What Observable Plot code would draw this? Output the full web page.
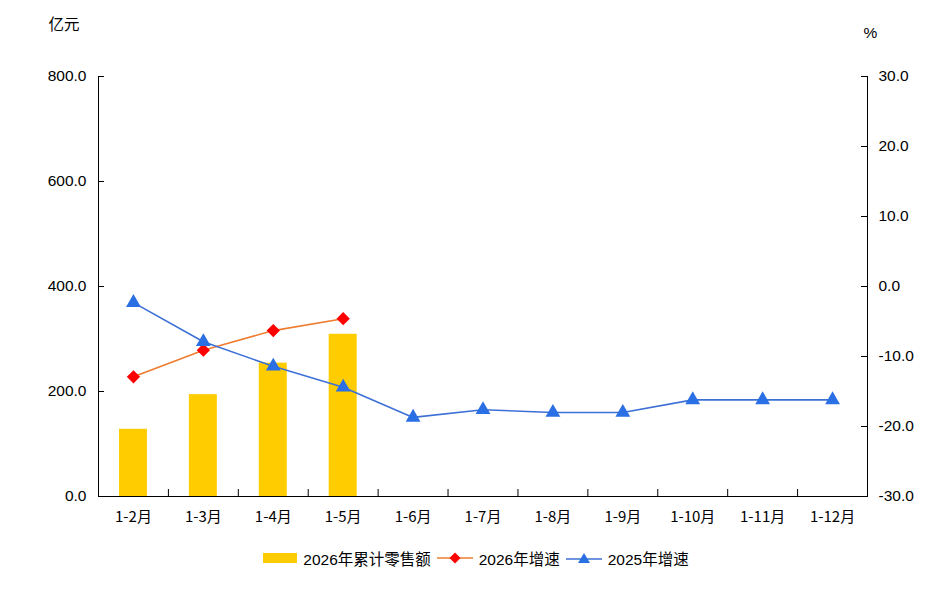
<!DOCTYPE html>
<html><head><meta charset="utf-8">
<script src="https://cdn.jsdelivr.net/npm/d3@7"></script>
<script src="https://cdn.jsdelivr.net/npm/@observablehq/plot@0.6"></script>
<style>
body{margin:0;background:#fff;font-family:"Liberation Sans","Noto Sans CJK SC",sans-serif;}
#legend{display:flex;justify-content:center;align-items:center;font-size:15.5px;margin-top:17px;color:#000;}
#legend .item{display:flex;align-items:center;margin:0 3px;}
#legend svg{margin-right:6px;}
</style></head><body>
<div id="chart"></div>
<div id="legend"></div>
<script>
const categories = ["1-2月","1-3月","1-4月","1-5月","1-6月","1-7月","1-8月","1-9月","1-10月","1-11月","1-12月"];
const sales2026 = [128, 194, 254, 309];
const growth2026 = [-12.9, -9.1, -6.3, -4.6];
const growth2025 = [-2.3, -7.9, -11.4, -14.4, -18.7, -17.6, -18.0, -18.0, -16.2, -16.2, -16.2];
const leftTicks = [0, 200, 400, 600, 800];
const rightTicks = [-30, -20, -10, 0, 10, 20, 30];
const seriesNames = ["2026年累计零售额", "2026年增速", "2025年增速"];
const leftUnit = "亿元";
const rightUnit = "%";

const colors = {bar: "#FFCC00", line26: "#EE7D31", dot26: "#FF0000", line25: "#3D70D6", dot25: "#2A6FE3"};

const W = 952, H = 530, mL = 98, mR = 85, mT = 76, mB = 34;
const plotW = W - mL - mR;
const bandW = plotW / categories.length;
const lMax = 800, rMin = -30, rMax = 30;
const toLeft = v => (v - rMin) / (rMax - rMin) * lMax;
const toRight = d => d / lMax * (rMax - rMin) + rMin;

const bars = sales2026.map((v, i) => ({cat: categories[i], v}));
const g26 = growth2026.map((v, i) => ({cat: categories[i], v: toLeft(v)}));
const g25 = growth2025.map((v, i) => ({cat: categories[i], v: toLeft(v)}));
const tickLen = 7 / (H - mT - mB) * lMax;

const chart = Plot.plot({
  width: W, height: H,
  marginLeft: mL, marginRight: mR, marginTop: mT, marginBottom: mB,
  style: {fontFamily: '"Liberation Sans","Noto Sans CJK SC",sans-serif', fontSize: "15px", color: "#000", background: "#fff"},
  x: {type: "band", domain: categories, paddingInner: 0, paddingOuter: 0, round: false},
  y: {domain: [0, lMax]},
  marks: [
    Plot.barY(bars, {x: "cat", y: "v", fill: colors.bar, insetLeft: bandW * 0.3, insetRight: bandW * 0.3}),
    Plot.ruleY([0], {stroke: "#000", strokeWidth: 1}),
    Plot.frame({anchor: "left", stroke: "#000"}),
    Plot.frame({anchor: "right", stroke: "#000"}),
    Plot.ruleY(leftTicks, {stroke: "#000", insetRight: plotW - 6}),
    Plot.ruleY(rightTicks.map(toLeft), {stroke: "#000", insetLeft: plotW - 6}),
    Plot.ruleX(categories.slice(1), {x: d => d, dx: -bandW / 2, y1: 0, y2: tickLen, stroke: "#000"}),
    Plot.axisY({anchor: "left", ticks: leftTicks, tickSize: 0, tickPadding: 12, tickFormat: d => d.toFixed(1), label: null, fontSize: 15.5}),
    Plot.axisY({anchor: "right", ticks: rightTicks.map(toLeft), tickSize: 0, tickPadding: 11, tickFormat: d => toRight(d).toFixed(1), label: null, fontSize: 15.5}),
    Plot.axisX({tickSize: 0, tickPadding: 15, label: null, fontSize: 15, fontFamily: '"Noto Sans CJK SC",sans-serif'}),
    Plot.line(g26, {x: "cat", y: "v", stroke: colors.line26, strokeWidth: 1.6}),
    Plot.dot(g26, {x: "cat", y: "v", symbol: "diamond2", r: 6, fill: colors.dot26, stroke: "none"}),
    Plot.line(g25, {x: "cat", y: "v", stroke: colors.line25, strokeWidth: 1.6}),
    Plot.dot(g25, {x: "cat", y: "v", symbol: "triangle", r: 5.5, fill: colors.dot25, stroke: "none"}),
    Plot.text([leftUnit], {frameAnchor: "top-left", dx: -50, dy: -58, textAnchor: "start", fontSize: 15.5, fontFamily: '"Noto Sans CJK SC",sans-serif'}),
    Plot.text([rightUnit], {frameAnchor: "top-right", dx: -4, dy: -50, textAnchor: "start", fontSize: 15.5})
  ]
});
document.getElementById("chart").appendChild(chart);

const legend = document.getElementById("legend");
const sw = [
  `<svg width="34" height="12"><rect x="0" y="1" width="34" height="10" fill="${colors.bar}"/></svg>`,
  `<svg width="36" height="14"><line x1="0" y1="7" x2="36" y2="7" stroke="${colors.line26}" stroke-width="1.6"/><path d="M18 1.5 L23.5 7 L18 12.5 L12.5 7 Z" fill="${colors.dot26}"/></svg>`,
  `<svg width="36" height="14"><line x1="0" y1="8" x2="36" y2="8" stroke="${colors.line25}" stroke-width="1.6"/><path d="M18 2 L24 12 L12 12 Z" fill="${colors.dot25}"/></svg>`
];
seriesNames.forEach((n, i) => {
  const d = document.createElement("div");
  d.className = "item";
  d.innerHTML = sw[i] + `<span>${n}</span>`;
  legend.appendChild(d);
});
</script>
</body></html>
